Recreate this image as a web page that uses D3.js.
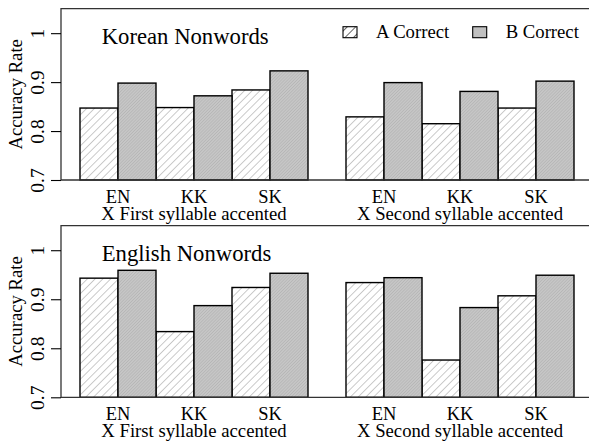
<!DOCTYPE html>
<html>
<head>
<meta charset="utf-8">
<script src="https://cdn.jsdelivr.net/npm/d3@7"></script>
<style>
html,body{margin:0;padding:0;background:#fff;}
svg{display:block;}
text{font-family:"Liberation Serif","Times New Roman",serif;fill:#000;}
</style>
</head>
<body>
<svg id="chart" width="589" height="443"></svg>
<script>
// ---- data ----
const panelTitles = ["Korean Nonwords", "English Nonwords"];
const groupLabels = ["X First syllable accented", "X Second syllable accented"];
const categories = ["EN", "KK", "SK"];
const seriesNames = ["A Correct", "B Correct"];
const yTicks = [0.7, 0.8, 0.9, 1];
const yTickLabels = ["0.7", "0.8", "0.9", "1"];
const yAxisLabel = "Accuracy Rate";

const koreanFirstA  = [0.847, 0.848, 0.884];
const koreanFirstB  = [0.898, 0.872, 0.923];
const koreanSecondA = [0.829, 0.815, 0.847];
const koreanSecondB = [0.899, 0.881, 0.902];
const englishFirstA  = [0.943, 0.834, 0.924];
const englishFirstB  = [0.959, 0.887, 0.953];
const englishSecondA = [0.934, 0.776, 0.907];
const englishSecondB = [0.944, 0.883, 0.949];

const panelData = [
  [[koreanFirstA, koreanFirstB], [koreanSecondA, koreanSecondB]],
  [[englishFirstA, englishFirstB], [englishSecondA, englishSecondB]]
];

// ---- layout ----
const svg = d3.select("#chart");
const panelTop = [8.7, 225.7];
const panelBottom = [180, 397.3];
const left = 61, right = 593;

const defs = svg.append("defs");
const pA = defs.append("pattern").attr("id", "hatchA").attr("patternUnits", "userSpaceOnUse")
  .attr("width", 5.5).attr("height", 5.5).attr("patternTransform", "rotate(45)");
pA.append("rect").attr("width", 5.5).attr("height", 5.5).attr("fill", "#fff");
pA.append("line").attr("x1", 0).attr("y1", 0).attr("x2", 0).attr("y2", 5.5)
  .attr("stroke", "#a0a0a0").attr("stroke-width", 1.1);
const pB = defs.append("pattern").attr("id", "hatchB").attr("patternUnits", "userSpaceOnUse")
  .attr("width", 2.2).attr("height", 2.2).attr("patternTransform", "rotate(45)");
pB.append("rect").attr("width", 2.2).attr("height", 2.2).attr("fill", "#c6c6c6");
pB.append("line").attr("x1", 0).attr("y1", 0).attr("x2", 0).attr("y2", 2.2)
  .attr("stroke", "#a8a8a8").attr("stroke-width", 0.8);
const pL = defs.append("pattern").attr("id", "hatchLegend").attr("patternUnits", "userSpaceOnUse")
  .attr("width", 6).attr("height", 6).attr("patternTransform", "rotate(45)");
pL.append("rect").attr("width", 6).attr("height", 6).attr("fill", "#fff");
pL.append("line").attr("x1", 0).attr("y1", 0).attr("x2", 0).attr("y2", 6)
  .attr("stroke", "#000").attr("stroke-width", 1.2);

const fills = ["url(#hatchA)", "url(#hatchB)"];
const x = d3.scaleLinear().domain([0, 14]).range([left, right]);
const barW = x(1) - x(0);

panelData.forEach((groups, p) => {
  const y = d3.scaleLinear().domain([0.7, 1.05]).range([panelBottom[p], panelTop[p]]);
  const g = svg.append("g");

  // bars
  groups.forEach((series, gi) => {
    series.forEach((vals, si) => {
      vals.forEach((v, ci) => {
        const pos = 0.5 + gi * 7 + ci * 2 + si;
        g.append("rect")
          .attr("x", x(pos)).attr("width", barW)
          .attr("y", y(v)).attr("height", y(0.7) - y(v))
          .attr("fill", fills[si]).attr("stroke", "#000").attr("stroke-width", 1.4);
      });
    });
    // category labels
    categories.forEach((c, ci) => {
      g.append("text").attr("x", x(0.5 + gi * 7 + ci * 2 + 1)).attr("y", panelBottom[p] + 22.5)
        .attr("text-anchor", "middle").attr("font-size", 18.5).text(c);
    });
    g.append("text").attr("x", x(0.5 + gi * 7 + 3)).attr("y", panelBottom[p] + 39.7)
      .attr("text-anchor", "middle").attr("font-size", 18.7).text(groupLabels[gi]);
  });

  // frame
  g.append("path")
    .attr("d", `M${right},${panelTop[p]}H${left}V${panelBottom[p]}H${right}`)
    .attr("fill", "none").attr("stroke", "#333").attr("stroke-width", 1.3);

  // y axis ticks
  const axis = d3.axisLeft(y).tickValues(yTicks).tickSize(10).tickFormat((d, i) => yTickLabels[i]);
  const ag = g.append("g").attr("transform", `translate(${left},0)`).call(axis);
  ag.select(".domain").remove();
  ag.selectAll(".tick line").attr("stroke", "#000").attr("stroke-width", 1.1);
  ag.selectAll(".tick text")
    .attr("font-family", '"Liberation Serif","Times New Roman",serif')
    .attr("font-size", 19.5).attr("fill", "#000")
    .attr("x", null).attr("dy", null)
    .attr("text-anchor", "middle")
    .attr("transform", `translate(${44 - left},0) rotate(-90)`)
    .attr("y", 0);

  // y axis label
  g.append("text")
    .attr("transform", `translate(21.5,${(panelTop[p] + panelBottom[p]) / 2}) rotate(-90)`)
    .attr("text-anchor", "middle").attr("font-size", 18.7).text(yAxisLabel);

  // panel title
  g.append("text").attr("x", 101.7).attr("y", panelTop[p] + 35)
    .attr("font-size", 22.7).text(panelTitles[p]);
});

// legend (top panel only)
const legendX = [343, 472.7];
const legendFills = ["url(#hatchLegend)", "#c0c0c0"];
seriesNames.forEach((s, i) => {
  svg.append("rect").attr("x", legendX[i]).attr("y", 26.7).attr("width", 14).attr("height", 11)
    .attr("fill", legendFills[i]).attr("stroke", "#000").attr("stroke-width", 1.1);
  svg.append("text").attr("x", legendX[i] + 33).attr("y", 37.7)
    .attr("font-size", 18.7).text(s);
});
</script>
</body>
</html>
